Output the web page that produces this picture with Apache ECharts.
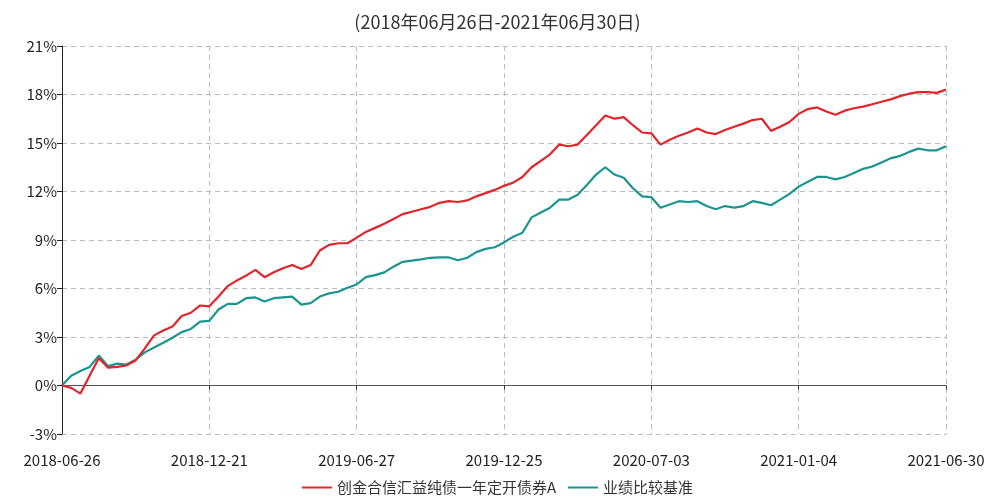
<!DOCTYPE html>
<html>
<head>
<meta charset="utf-8">
<script src="https://cdn.jsdelivr.net/npm/echarts@6/dist/echarts.min.js"></script>
<style>
html,body{margin:0;padding:0;background:#fff;}
#chart{width:995px;height:502px;}
</style>
</head>
<body>
<div id="chart"></div>
<script>
var tickLabels = ['2018-06-26','2018-12-21','2019-06-27','2019-12-25','2020-07-03','2021-01-04','2021-06-30'];
var fundName = '创金合信汇益纯债一年定开债券A';
var benchName = '业绩比较基准';
var fundValues = [
  0.0, -0.15, -0.5, 0.6, 1.7, 1.1, 1.15, 1.25, 1.55, 2.3, 3.1, 3.4, 3.65, 4.3, 4.5, 4.95,
  4.9, 5.5, 6.15, 6.5, 6.8, 7.15, 6.7, 7.0, 7.25, 7.45, 7.2, 7.45, 8.35, 8.7, 8.8, 8.8,
  9.15, 9.5, 9.75, 10.0, 10.3, 10.6, 10.75, 10.9, 11.05, 11.3, 11.4, 11.35, 11.45, 11.7, 11.9, 12.1,
  12.35, 12.55, 12.9, 13.5, 13.9, 14.3, 14.9, 14.8, 14.9, 15.5, 16.1, 16.7, 16.5, 16.6, 16.1, 15.65,
  15.6, 14.9, 15.2, 15.45, 15.65, 15.9, 15.65, 15.55, 15.8, 16.0, 16.2, 16.42, 16.5, 15.75, 16.0, 16.3,
  16.8, 17.1, 17.2, 16.95, 16.75, 17.0, 17.15, 17.25, 17.4, 17.55, 17.7, 17.9, 18.05, 18.15, 18.15, 18.1,
  18.3
];
var benchValues = [
  0.0, 0.6, 0.9, 1.15, 1.85, 1.2, 1.35, 1.3, 1.6, 2.05, 2.35, 2.65, 2.95, 3.3, 3.5, 3.95,
  4.0, 4.7, 5.05, 5.05, 5.4, 5.45, 5.2, 5.4, 5.45, 5.5, 5.0, 5.1, 5.5, 5.7, 5.8, 6.05,
  6.25, 6.7, 6.83, 7.0, 7.35, 7.65, 7.72, 7.8, 7.9, 7.92, 7.92, 7.75, 7.9, 8.25, 8.45, 8.55,
  8.85, 9.2, 9.45, 10.4, 10.7, 11.0, 11.5, 11.5, 11.8, 12.4, 13.05, 13.5, 13.05, 12.85, 12.2, 11.7,
  11.65, 11.0, 11.2, 11.4, 11.35, 11.4, 11.1, 10.9, 11.1, 11.0, 11.1, 11.4, 11.3, 11.15, 11.5, 11.85,
  12.3, 12.6, 12.9, 12.9, 12.75, 12.9, 13.15, 13.4, 13.55, 13.8, 14.05, 14.2, 14.45, 14.65, 14.55, 14.55,
  14.8
];

var lastIndex = fundValues.length - 1;
var labelStep = lastIndex / (tickLabels.length - 1);
function toPairs(arr){ return arr.map(function(v,i){ return [i, v]; }); }

var font = '"Noto Sans CJK SC", "Noto Sans", sans-serif';
var chart = echarts.init(document.getElementById('chart'), null, {renderer:'canvas'});
chart.setOption({
  animation: false,
  backgroundColor: '#fff',
  textStyle: { fontFamily: font },
  title: [{
    text: '(2018年06月26日-2021年06月30日)',
    left: 'center', top: 8,
    textStyle: { fontSize: 18, fontWeight: 'normal', color: '#333', fontFamily: font }
  }],
  legend: {
    bottom: 2, left: 'center',
    icon: 'rect', itemWidth: 30, itemHeight: 2, itemGap: 12,
    textStyle: { fontSize: 15, color: '#333', fontFamily: font },
    data: [fundName, benchName]
  },
  grid: { left: 62, right: 49, top: 46, bottom: 68, containLabel: false },
  xAxis: [{
    type: 'value', min: 0, max: lastIndex, interval: labelStep,
    axisLine: { show: true, onZero: true, lineStyle: { color: '#555', width: 1 } },
    axisTick: { show: true, length: 4, lineStyle: { color: '#333' } },
    axisLabel: { show: false },
    splitLine: { show: false }
  }, {
    type: 'value', min: 0, max: lastIndex, interval: labelStep, position: 'bottom',
    axisLine: { show: false, onZero: false },
    axisTick: { show: false },
    axisLabel: {
      show: true, margin: 19, fontSize: 15, color: '#222', fontFamily: font,
      formatter: function(v){ var k = Math.round(v / labelStep); return tickLabels[k] || ''; }
    },
    splitLine: { show: true, lineStyle: { type: [5, 4], color: '#bbb', width: 1 } }
  }],
  yAxis: {
    type: 'value', min: -3, max: 21, interval: 3,
    axisLine: { show: true, lineStyle: { color: '#222', width: 1 } },
    axisTick: { show: true, length: 5, lineStyle: { color: '#222' } },
    axisLabel: { formatter: '{value}%', fontSize: 15, color: '#222', fontFamily: font, margin: 5 },
    splitLine: { show: true, lineStyle: { type: [5, 4], color: '#bbb', width: 1 } }
  },
  series: [{
    name: fundName, type: 'line', xAxisIndex: 0, data: toPairs(fundValues),
    showSymbol: false, symbol: 'none', smooth: false,
    lineStyle: { color: '#e0252b', width: 2.2 }, itemStyle: { color: '#e0252b' }, z: 3
  }, {
    name: benchName, type: 'line', xAxisIndex: 0, data: toPairs(benchValues),
    showSymbol: false, symbol: 'none', smooth: false,
    lineStyle: { color: '#1b958f', width: 2.2 }, itemStyle: { color: '#1b958f' }, z: 2
  }]
});
</script>
</body>
</html>
